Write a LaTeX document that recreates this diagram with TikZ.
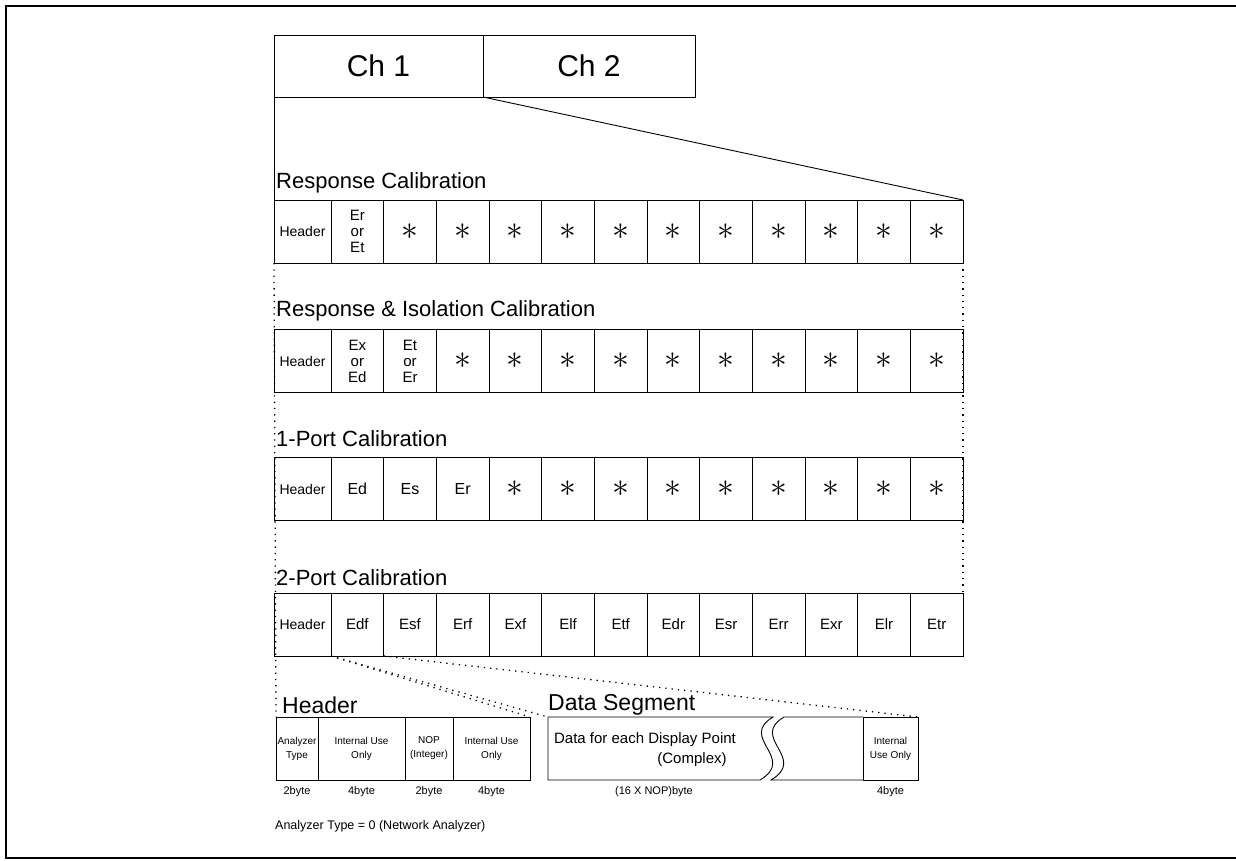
\documentclass[tikz,border=0pt]{standalone}
\usepackage{fontspec}
\setmainfont{Liberation Sans}
\usetikzlibrary{positioning}
\newcommand{\calstar}{\scalebox{1.35}{$\ast$}}
\begin{document}
\begin{tikzpicture}[x=1pt, y=-1pt,
    cell/.style={draw, line width=0.9pt, inner sep=0pt, outer sep=0pt, minimum height=63pt, align=center},
    wcell/.style={cell, minimum width=52.67pt, font=\fontsize{15}{16}\selectfont},
    hdrcell/.style={cell, minimum width=57pt, font=\fontsize{14}{14}\selectfont},
    starcell/.style={wcell, font=\fontsize{24}{24}\selectfont},
    rowtitle/.style={anchor=west, inner sep=0pt, font=\fontsize{22}{22}\selectfont},
    bigtitle/.style={anchor=west, inner sep=0pt, font=\fontsize{23}{23}\selectfont},
    small/.style={cell, font=\fontsize{10}{14}\selectfont},
    byte/.style={inner sep=0pt, font=\fontsize{11}{11}\selectfont},
    dots/.style={line width=1.3pt, dash pattern=on 1.3pt off 5pt}]
    \useasboundingbox (0,0) rectangle (1236,861);

    % frame
    \draw[line width=2.5pt] (1236,6) -- (6,6) -- (6,858) -- (1236,858);

    % channels
    \node[cell, minimum width=209pt, minimum height=62pt, font=\fontsize{30}{30}\selectfont] (ch1) at (378.5,66) {Ch 1};
    \node[cell, minimum width=212pt, minimum height=62pt, font=\fontsize{30}{30}\selectfont] (ch2) at (589,66) {Ch 2};

    % response calibration
    \node[rowtitle] (t1) at (276,183) {Response Calibration};
    \node[hdrcell] (r1c0) at (302.5,231.5) {Header};
    \node[wcell] (r1c1) at (357.33,231.5) {Er\\or\\Et};
    \foreach \i in {2,...,12}
        \node[starcell] (r1c\i) at ({331+(\i-0.5)*52.67},231.5) {\calstar};

    % response & isolation calibration
    \node[rowtitle] (t2) at (276,311) {Response \& Isolation Calibration};
    \node[hdrcell] (r2c0) at (302.5,361) {Header};
    \node[wcell] (r2c1) at (357.33,361) {Ex\\or\\Ed};
    \node[wcell] (r2c2) at (410,361) {Et\\or\\Er};
    \foreach \i in {3,...,12}
        \node[starcell] (r2c\i) at ({331+(\i-0.5)*52.67},361) {\calstar};

    % 1-port calibration
    \node[rowtitle] (t3) at (276,439) {1-Port Calibration};
    \node[hdrcell] (r3c0) at (302.5,489) {Header};
    \foreach \i/\lab in {1/Ed,2/Es,3/Er}
        \node[wcell, font=\fontsize{16}{16}\selectfont] (r3c\i) at ({331+(\i-0.5)*52.67},489) {\lab};
    \foreach \i in {4,...,12}
        \node[starcell] (r3c\i) at ({331+(\i-0.5)*52.67},489) {\calstar};

    % 2-port calibration
    \node[rowtitle] (t4) at (276,578) {2-Port Calibration};
    \node[hdrcell] (r4c0) at (302.5,624.5) {Header};
    \foreach \i/\lab in {1/Edf,2/Esf,3/Erf,4/Exf,5/Elf,6/Etf,7/Edr,8/Esr,9/Err,10/Exr,11/Elr,12/Etr}
        \node[wcell, font=\fontsize{15}{15}\selectfont] (r4c\i) at ({331+(\i-0.5)*52.67},624.5) {\lab};

    % header layout
    \node[bigtitle] (hlabel) at (282,705) {Header};
    \node[small, minimum width=42pt] (h1) at (297,748.5) {Analyzer\\Type};
    \node[small, minimum width=87pt] (h2) at (361.5,748.5) {Internal Use\\Only};
    \node[small, minimum width=48pt] (h3) at (429,748.5) {NOP\\(Integer)};
    \node[small, minimum width=77pt] (h4) at (491.5,748.5) {Internal Use\\Only};
    \foreach \c/\lab in {h1/2byte,h2/4byte,h3/2byte,h4/4byte}
        \node[byte, below=6pt of \c] (b\c) {\lab};

    % data segment
    \node[bigtitle] (dlabel) at (548,705) {Data Segment};
    \coordinate (dseg) at (548,717);
    \node[small, minimum width=55pt] (iuo) at (890.5,748.5) {Internal\\Use Only};
    \draw[line width=0.9pt] (dseg) -- (773,717) .. controls (738,738) and (797,758) .. (760,780) -- (548,780) -- cycle;
    \draw[line width=0.9pt] (784,717) -- (iuo.north west) (iuo.south west) -- (771,780) .. controls (808,758) and (749,738) .. (784,717);
    \node[inner sep=0pt, font=\fontsize{15}{15}\selectfont] (dtxt) at (645,740) {Data for each Display Point};
    \node[inner sep=0pt, font=\fontsize{15}{15}\selectfont] (cplx) at (692,760) {(Complex)};
    \node[byte] (bdata) at (654,792) {(16 X NOP)byte};
    \node[byte, below=6pt of iuo] (biuo) {4byte};

    \node[anchor=west, inner sep=0pt, font=\fontsize{12.5}{12.5}\selectfont] (note) at (275,826) {Analyzer Type = 0 (Network Analyzer)};

    % connecting lines
    \draw[line width=0.9pt] (ch1.south west) -- (r1c0.north west);
    \draw[line width=0.9pt] (ch1.south east) -- (r1c12.north east);
    \draw[dots] (r1c0.south west) -- (h1.north west);
    \draw[dots] (r1c12.south east) -- (r4c12.north east);
    \draw[dots] (r4c0.south east) -- (h4.north east);
    \draw[dots] (r4c0.south east) -- (dseg);
    \draw[dots] (r4c1.south east) -- (iuo.north east);
\end{tikzpicture}
\end{document}
